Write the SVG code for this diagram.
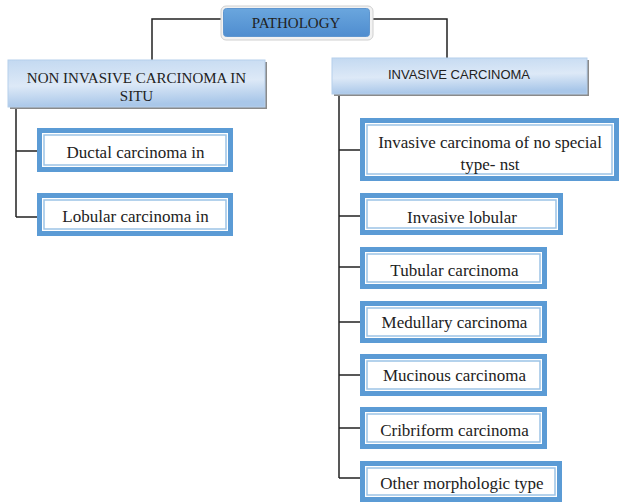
<svg xmlns="http://www.w3.org/2000/svg" width="623" height="503" viewBox="0 0 623 503">
<defs>
<linearGradient id="hdr" x1="0" y1="0" x2="0.15" y2="1">
<stop offset="0" stop-color="#c3d9f1"/>
<stop offset="0.55" stop-color="#dde9f7"/>
<stop offset="1" stop-color="#a9c7e9"/>
</linearGradient>
<linearGradient id="top" x1="0" y1="0" x2="0" y2="1">
<stop offset="0" stop-color="#6aa6de"/>
<stop offset="1" stop-color="#4f8dcf"/>
</linearGradient>
<style>
.leaf{fill:#fff;stroke:#5b9bd5;stroke-width:5}
.inner{fill:none;stroke:#9cc3e6;stroke-width:1.5}
.hdr{fill:url(#hdr);stroke:#b6cfeb;stroke-width:1}
.shd{fill:#8a8a8a}
.serif{font-family:"Liberation Serif","Times New Roman",serif;fill:#222;text-anchor:middle}
.lt{font-size:17px}
.sans{font-family:"Liberation Sans",Arial,sans-serif;fill:#222;text-anchor:middle}
.con{fill:none;stroke:#222;stroke-width:1.5}
</style>
</defs>
<g id="connectors">
<path class="con" d="M223 19 H152 V60"/>
<path class="con" d="M370 19 H447 V58"/>
<path class="con" d="M16 107 V217 M16 151 H37 M16 217 H37"/>
<path class="con" d="M339 94 V478 M339 150 H362 M339 216 H362 M339 267 H362 M339 322 H362 M339 375 H362 M339 428 H362 M339 478 H362"/>
</g>
<g id="pathology">
<rect x="221" y="6" width="152" height="34" rx="5" fill="#f2f2f2" stroke="#d0d0d0" stroke-width="1"/>
<rect x="223.5" y="8.5" width="146" height="28" rx="3" fill="url(#top)" stroke="#5f96cf" stroke-width="1"/>
<text class="serif" x="296" y="28" font-size="15">PATHOLOGY</text>
</g>
<g id="non-invasive">
<rect class="shd" x="10" y="62" width="257" height="47"/>
<rect class="hdr" x="8" y="60" width="257" height="47"/>
<text class="serif" x="136.5" y="83" font-size="15">NON INVASIVE CARCINOMA IN</text>
<text class="serif" x="136.5" y="101" font-size="15">SITU</text>
</g>
<g id="invasive">
<rect class="shd" x="334" y="60" width="255" height="36"/>
<rect class="hdr" x="332" y="58" width="255" height="36"/>
<text class="sans" x="459" y="78.5" font-size="13">INVASIVE CARCINOMA</text>
</g>
<g id="ductal">
<rect class="leaf" x="39.5" y="130.5" width="191" height="39"/>
<rect class="inner" x="44" y="135" width="182" height="30"/>
<text class="serif lt" x="135.5" y="158">Ductal carcinoma in</text>
</g>
<g id="lobular">
<rect class="leaf" x="39.5" y="195.5" width="191" height="38"/>
<rect class="inner" x="44" y="200" width="182" height="29"/>
<text class="serif lt" x="135.5" y="222">Lobular carcinoma in</text>
</g>
<g id="nst">
<rect class="leaf" x="362.5" y="120.5" width="254" height="58"/>
<rect class="inner" x="367" y="125" width="245" height="49"/>
<text class="serif lt" x="490" y="148">Invasive carcinoma of no special</text>
<text class="serif lt" x="490" y="170">type- nst</text>
</g>
<g id="invasive-lobular">
<rect class="leaf" x="362.5" y="195.5" width="198" height="37"/>
<rect class="inner" x="367" y="200" width="189" height="28"/>
<text class="serif lt" x="462" y="223">Invasive lobular</text>
</g>
<g id="tubular">
<rect class="leaf" x="362.5" y="249.5" width="182" height="37"/>
<rect class="inner" x="367" y="254" width="173" height="28"/>
<text class="serif lt" x="454.5" y="276">Tubular carcinoma</text>
</g>
<g id="medullary">
<rect class="leaf" x="362.5" y="303.5" width="182" height="37"/>
<rect class="inner" x="367" y="308" width="173" height="28"/>
<text class="serif lt" x="454.5" y="328">Medullary carcinoma</text>
</g>
<g id="mucinous">
<rect class="leaf" x="362.5" y="356.5" width="182" height="37"/>
<rect class="inner" x="367" y="361" width="173" height="28"/>
<text class="serif lt" x="454.5" y="381">Mucinous carcinoma</text>
</g>
<g id="cribriform">
<rect class="leaf" x="362.5" y="409.5" width="182" height="37"/>
<rect class="inner" x="367" y="414" width="173" height="28"/>
<text class="serif lt" x="454.5" y="436">Cribriform carcinoma</text>
</g>
<g id="other">
<rect class="leaf" x="362.5" y="463.5" width="197" height="36"/>
<rect class="inner" x="367" y="468" width="188" height="27"/>
<text class="serif lt" x="462" y="489">Other morphologic type</text>
</g>
</svg>
